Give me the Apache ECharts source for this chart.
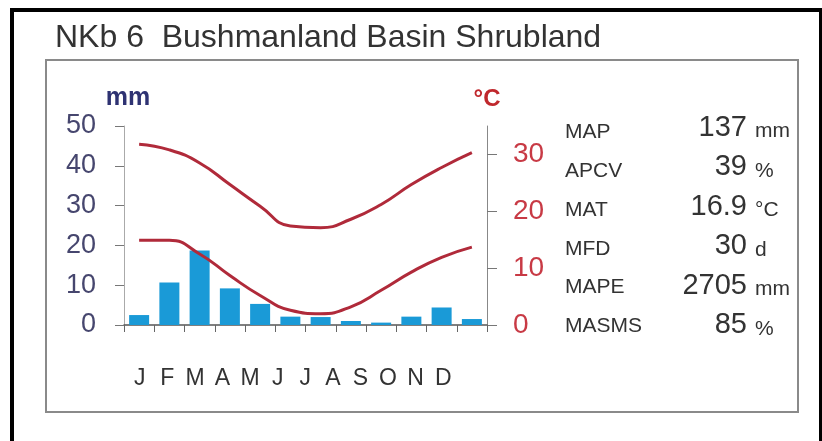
<!DOCTYPE html>
<html>
<head>
<meta charset="utf-8">
<script src="https://cdn.jsdelivr.net/npm/echarts@6/dist/echarts.min.js"></script>
<style>
html,body{margin:0;padding:0;background:#fff;}
#chart{width:822px;height:441px;}
</style>
</head>
<body>
<div id="chart"></div>
<script>
var titleText = 'NKb 6  Bushmanland Basin Shrubland';
var months = ['J','F','M','A','M','J','J','A','S','O','N','D'];
var rainfall = [2.5, 10.7, 18.7, 9.2, 5.3, 2.1, 2.0, 1.0, 0.6, 2.1, 4.4, 1.5];
var tempMax = [31.8, 30.8, 28.5, 24.7, 20.9, 17.4, 17.1, 18.6, 21.2, 24.7, 27.7, 30.3];
var tempMin = [14.9, 14.9, 12.5, 8.7, 5.2, 2.6, 2.0, 3.2, 6.1, 9.3, 11.9, 13.7];
var tempTicks = [0, 10, 20, 30];
var statLabels = ['MAP', 'APCV', 'MAT', 'MFD', 'MAPE', 'MASMS'];
var statValues = ['137', '39', '16.9', '30', '2705', '85'];
var statUnits = ['mm', '%', '\u00b0C', 'd', 'mm', '%'];

var font = '"Liberation Sans", Arial, sans-serif';
var chart = echarts.init(document.getElementById('chart'));

var graphics = [
  {type:'rect', shape:{x:12, y:10, width:809, height:460}, style:{fill:'none', stroke:'#000', lineWidth:4}, silent:true},
  {type:'rect', shape:{x:46, y:60, width:752, height:352}, style:{fill:'none', stroke:'#8a8a8a', lineWidth:2}, silent:true},
  {type:'text', x:55, y:54, style:{text:titleText, font:'32px ' + font, fill:'#333', textAlign:'left', textVerticalAlign:'bottom'}},
  {type:'text', x:128, y:111, style:{text:'mm', font:'bold 25px ' + font, fill:'#2e3272', textAlign:'center', textVerticalAlign:'bottom'}},
  {type:'text', x:487, y:111, style:{text:'\u00b0C', font:'bold 24px ' + font, fill:'#c0282d', textAlign:'center', textVerticalAlign:'bottom'}}
];
statLabels.forEach(function(l, i){
  graphics.push({type:'text', x:565, y:143 + i*38.8, style:{text:l, font:'21px ' + font, fill:'#333', textAlign:'left', textVerticalAlign:'bottom'}});
  graphics.push({type:'text', x:747, y:142 + i*39.5, style:{text:statValues[i], font:'29px ' + font, fill:'#333', textAlign:'right', textVerticalAlign:'bottom'}});
  graphics.push({type:'text', x:755, y:142 + i*39.5, style:{text:statUnits[i], font:'21px ' + font, fill:'#333', textAlign:'left', textVerticalAlign:'bottom'}});
});

chart.setOption({
  animation:false,
  backgroundColor:'#fff',
  textStyle:{fontFamily:font},
  grid:[
    {left:124, top:126, width:363, height:199},
    {left:126, top:126, width:331, height:199}
  ],
  xAxis:[
    {type:'category', gridIndex:0, data:months, boundaryGap:true,
     axisLine:{lineStyle:{color:'#555', width:1.5}},
     axisTick:{show:true, length:7, lineStyle:{color:'#666'}},
     axisLabel:{show:false}},
    {type:'category', gridIndex:1, data:months,
     axisLine:{show:false}, axisTick:{show:false},
     axisLabel:{margin:42, fontSize:23, color:'#333', interval:0}}
  ],
  yAxis:[
    {type:'value', gridIndex:0, min:0, max:50, interval:10, position:'left',
     axisLine:{show:true, lineStyle:{color:'#aaa'}},
     axisTick:{show:true, length:9, lineStyle:{color:'#777'}},
     axisLabel:{fontSize:27, color:'#46466e', margin:28},
     splitLine:{show:false}},
    {type:'value', gridIndex:0, min:0, max:35, interval:10, position:'right',
     axisLine:{show:true, lineStyle:{color:'#888'}},
     axisTick:{show:true, length:10, lineStyle:{color:'#777'}, customValues:tempTicks},
     axisLabel:{fontSize:28, color:'#c83a45', margin:26, customValues:tempTicks},
     splitLine:{show:false}},
    {type:'value', gridIndex:1, show:false}
  ],
  series:[
    {type:'bar', xAxisIndex:0, yAxisIndex:0, data:rainfall, barWidth:20,
     itemStyle:{color:'#1a9ad7'}},
    {type:'line', xAxisIndex:0, yAxisIndex:1, data:tempMax, smooth:true, showSymbol:false,
     lineStyle:{color:'#b02a3a', width:3}},
    {type:'line', xAxisIndex:0, yAxisIndex:1, data:tempMin, smooth:true, showSymbol:false,
     lineStyle:{color:'#b02a3a', width:3}}
  ],
  graphic:graphics
});
</script>
</body>
</html>
